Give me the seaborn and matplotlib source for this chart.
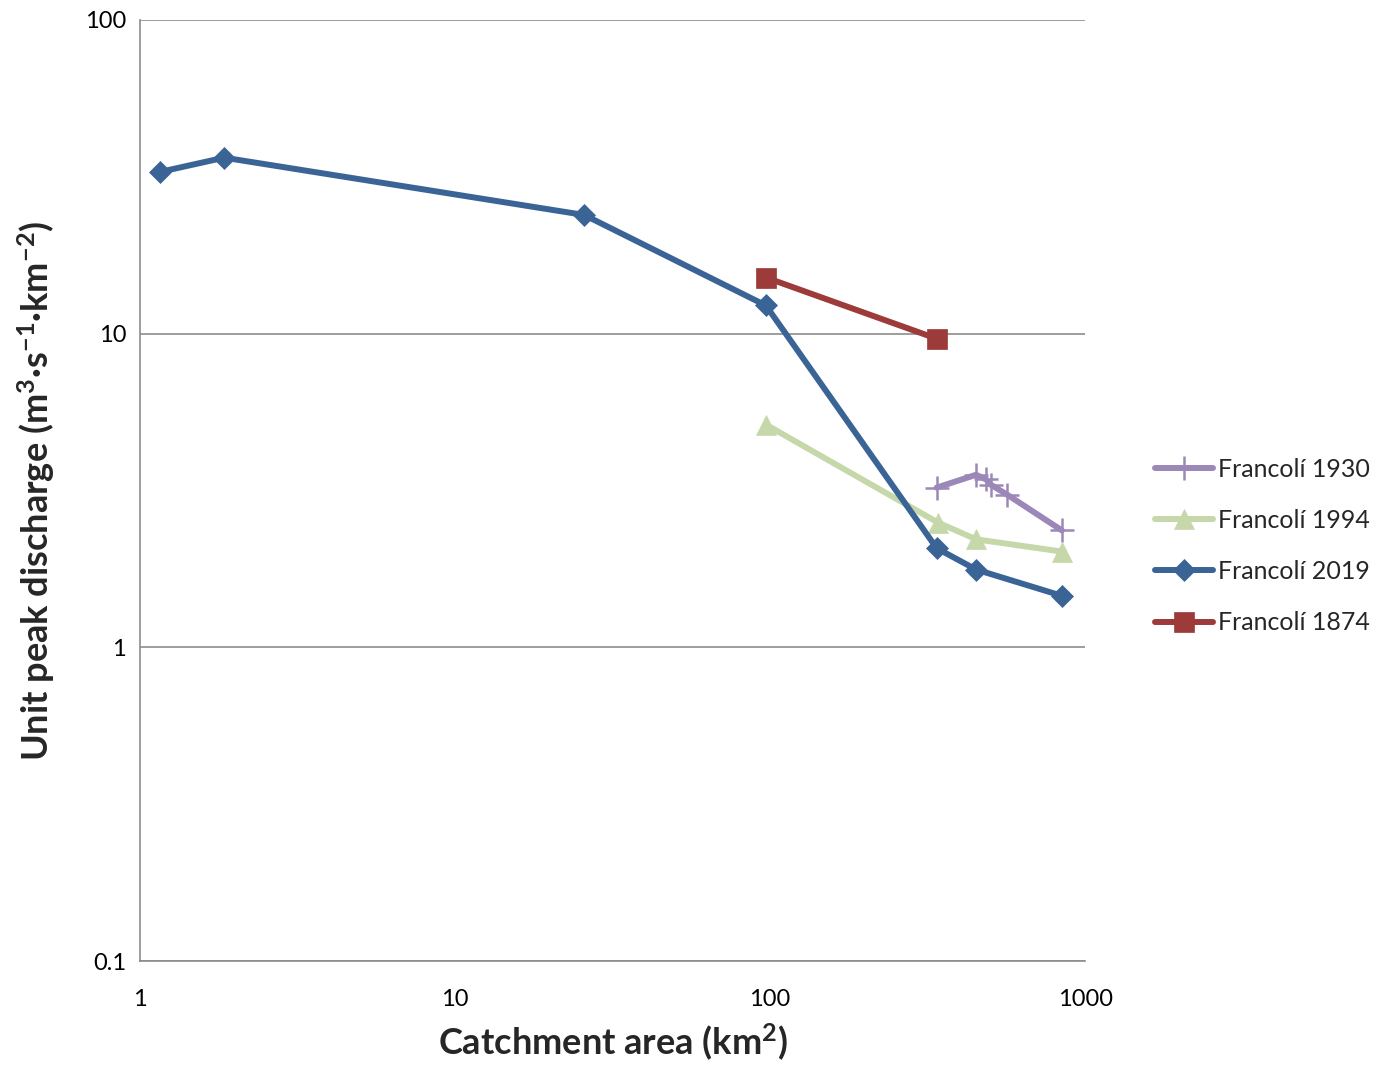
import matplotlib
matplotlib.use("Agg")
import matplotlib.pyplot as plt
from matplotlib.ticker import FixedLocator, FixedFormatter, NullLocator
import seaborn as sns
import pandas as pd

# Catchment area (km2) and unit peak discharge (m3 s-1 km-2) per flood event
area_1930 = [338, 451, 485, 502, 565, 844]
q_1930 = [3.23, 3.55, 3.43, 3.30, 3.07, 2.36]

area_1994 = [97, 341, 451, 844]
q_1994 = [5.13, 2.50, 2.21, 2.02]

area_2019 = [1.16, 1.85, 25.7, 97, 338, 451, 844]
q_2019 = [32.8, 36.4, 23.9, 12.3, 2.07, 1.77, 1.46]

area_1874 = [97, 338]
q_1874 = [15.1, 9.64]

x_ticks = [1, 10, 100, 1000]
x_labels = ["1", "10", "100", "1000"]
y_ticks = [0.1, 1, 10, 100]
y_labels = ["0.1", "1", "10", "100"]

sns.set_theme(style="white")
plt.rcParams["font.family"] = ["Lato", "DejaVu Sans"]
plt.rcParams["mathtext.fontset"] = "custom"
plt.rcParams["mathtext.rm"] = "Lato"
plt.rcParams["mathtext.bf"] = "Lato:bold"
plt.rcParams["mathtext.default"] = "bf"

fig = plt.figure(figsize=(13.77, 10.69), dpi=100)
ax = fig.add_axes([0.1017, 0.101, 0.6863, 0.8803])

series = [
    ("Francolí 1930", area_1930, q_1930, "#9C88B8", "+", 17, 1.8),
    ("Francolí 1994", area_1994, q_1994, "#C6D8AA", "^", 15, 0.5),
    ("Francolí 2019", area_2019, q_2019, "#3B6496", "D", 11.5, 0.5),
    ("Francolí 1874", area_1874, q_1874, "#9C3B39", "s", 14, 0.5),
]

for name, xs, ys, color, marker, ms, mew in series:
    df = pd.DataFrame({"area": xs, "q": ys})
    sns.lineplot(data=df, x="area", y="q", ax=ax, color=color, linewidth=4.3,
                 marker=marker, markersize=ms, markeredgewidth=mew,
                 markeredgecolor=color, label=name, sort=False,
                 solid_capstyle="round")

ax.set_xscale("log")
ax.set_yscale("log")
ax.set_xlim(1, 1000)
ax.set_ylim(0.1, 100)

ax.xaxis.set_major_locator(FixedLocator(x_ticks))
ax.xaxis.set_major_formatter(FixedFormatter(x_labels))
ax.xaxis.set_minor_locator(NullLocator())
ax.yaxis.set_major_locator(FixedLocator(y_ticks))
ax.yaxis.set_major_formatter(FixedFormatter(y_labels))
ax.yaxis.set_minor_locator(NullLocator())

ax.tick_params(axis="both", which="major", length=0, labelsize=17, colors="black")
ax.tick_params(axis="x", pad=20)
ax.tick_params(axis="y", pad=10)

ax.grid(axis="y", color="#8C8C8C", linewidth=1.2)
ax.grid(axis="x", visible=False)
for side in ["top", "right"]:
    ax.spines[side].set_visible(False)
for side in ["left", "bottom"]:
    ax.spines[side].set_color("#8C8C8C")
    ax.spines[side].set_linewidth(1.2)

ax.set_xlabel("Catchment area (km$^{2}$)", fontsize=26, fontweight="bold",
              labelpad=9)
ax.set_ylabel(r"Unit peak discharge (m$^{3}$·s$^{-1}$·km$^{-2}$)", fontsize=26,
              fontweight="bold", labelpad=20)

handles, labels = ax.get_legend_handles_labels()
ax.legend(handles, labels, loc="center left", bbox_to_anchor=(1.074, 0.441),
          frameon=False, fontsize=18, handlelength=2.3, handletextpad=0.2,
          labelspacing=1.13, borderpad=0, borderaxespad=0)

fig.savefig("out.png", dpi=100)
